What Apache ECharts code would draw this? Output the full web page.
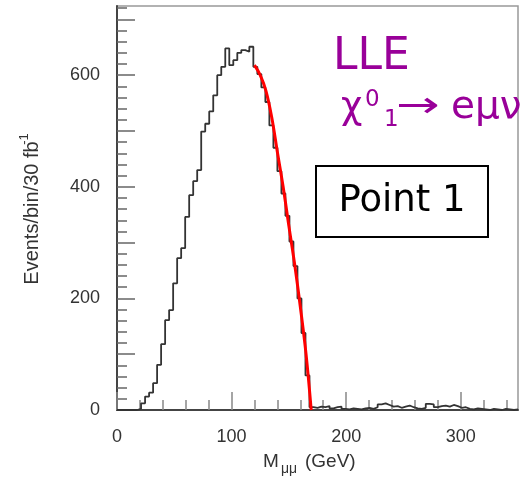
<!DOCTYPE html>
<html>
<head>
<meta charset="utf-8">
<script src="https://cdn.jsdelivr.net/npm/echarts@6/dist/echarts.min.js"></script>
<style>html,body{margin:0;padding:0;background:#fff}#c{width:520px;height:482px}</style>
</head>
<body>
<div id="c"></div>
<script>
// ---- data ----
const binStart = 0;      // GeV, left edge of first bin
const binWidth = 3.5;    // GeV
const counts = [
  0, 0, 0, 0, 0, 2, 12, 24, 31, 48,
  81, 118, 161, 179, 227, 272, 290, 346, 385, 410,
  430, 499, 513, 535, 564, 600, 615, 648, 618, 627,
  640, 645, 642, 651, 615, 602, 578, 552, 510, 470,
  428, 388, 348, 302, 258, 200, 138, 62, 5, 4,
  6, 5, 7, 3, 5, 6, 2, 1, 3, 2,
  1, 3, 4, 2, 5, 10, 12, 9, 6, 7,
  4, 6, 8, 5, 3, 2, 4, 11, 10, 5,
  7, 8, 6, 9, 7, 4, 5, 2, 1, 3,
  2, 1, 0, 2, 1, 0, 2, 1, 0, 1
];
const fitX = [120, 125, 130, 135, 140, 145, 150, 155, 160, 165, 169.5];
const fitY = [618, 600, 572, 525, 462, 400, 330, 262, 185, 100, 0];
const xMajorTicks = [0, 100, 200, 300];
const xMinorTicks = [20, 40, 60, 80, 120, 140, 160, 180, 220, 240, 260, 280, 320, 340];
const xLabels = [0, 100, 200, 300];
const yMajorTicks = [0, 100, 200, 300, 400, 500, 600, 700];
const yMinorTicks = [20, 40, 60, 80, 120, 140, 160, 180, 220, 240, 260, 280, 320, 340, 360, 380,
                     420, 440, 460, 480, 520, 540, 560, 580, 620, 640, 660, 680, 720];
const yLabels = [0, 200, 400, 600];

// ---- build ----
const histData = counts.map((v, i) => [binStart + i * binWidth, v]);
histData.push([binStart + counts.length * binWidth, counts[counts.length - 1]]);
const fitData = fitX.map((x, i) => [x, fitY[i]]);

const XMAX = 350, YMAX = 724;
const purple = '#990099';
const labelFont = { color: '#333', fontSize: 18, fontFamily: 'Liberation Sans' };

const chart = echarts.init(document.getElementById('c'), null, { renderer: 'canvas' });
chart.setOption({
  animation: false,
  backgroundColor: '#fff',
  grid: { left: 117, right: 2, top: 6, bottom: 72, show: true, borderColor: '#999', borderWidth: 1.5 },
  xAxis: [
    {
      type: 'value', min: 0, max: XMAX,
      axisLine: { show: true, onZero: false, lineStyle: { color: '#444', width: 2 } },
      axisTick: { show: true, inside: true, length: 18, customValues: xMajorTicks, lineStyle: { color: '#888', width: 1.5 } },
      axisLabel: Object.assign({ show: true, margin: 18, customValues: xLabels }, labelFont),
      splitLine: { show: false }
    },
    {
      type: 'value', min: 0, max: XMAX, position: 'bottom',
      axisLine: { show: false },
      axisTick: { show: true, inside: true, length: 10, customValues: xMinorTicks, lineStyle: { color: '#888', width: 1.5 } },
      axisLabel: { show: false },
      splitLine: { show: false }
    }
  ],
  yAxis: [
    {
      type: 'value', min: 0, max: YMAX,
      axisLine: { show: true, onZero: false, lineStyle: { color: '#444', width: 2 } },
      axisTick: { show: true, inside: true, length: 18, customValues: yMajorTicks, lineStyle: { color: '#666', width: 1.5 } },
      axisLabel: Object.assign({ show: true, margin: 17, customValues: yLabels }, labelFont),
      splitLine: { show: false }
    },
    {
      type: 'value', min: 0, max: YMAX, position: 'left',
      axisLine: { show: false },
      axisTick: { show: true, inside: true, length: 10, customValues: yMinorTicks, lineStyle: { color: '#666', width: 1.5 } },
      axisLabel: { show: false },
      splitLine: { show: false }
    }
  ],
  series: [
    {
      type: 'line', step: 'end', data: histData, symbol: 'none', xAxisIndex: 0, yAxisIndex: 0,
      lineStyle: { color: '#333', width: 1.8 }, z: 3
    },
    {
      type: 'line', smooth: 0.4, data: fitData, symbol: 'none', xAxisIndex: 0, yAxisIndex: 0,
      lineStyle: { color: '#ff0000', width: 3 }, z: 4
    }
  ],
  graphic: [
    { type: 'text', left: 333, top: 36, style: { text: 'LLE', fill: purple, font: '44px "DejaVu Sans"' } },
    { type: 'text', left: 341, top: 90, style: { text: 'χ', fill: purple, font: '37px "DejaVu Sans"' } },
    { type: 'text', left: 365, top: 89, style: { text: '0', fill: purple, font: '23px "DejaVu Sans"' } },
    { type: 'text', left: 384, top: 109, style: { text: '1', fill: purple, font: '23px "DejaVu Sans"' } },
    { type: 'text', x: 396, y: 108, scaleX: 1.45, style: { text: '→', fill: purple, font: '36px "DejaVu Sans"', textVerticalAlign: 'middle' } },
    { type: 'text', left: 451, top: 88, style: { text: 'eμν', fill: purple, font: '39px "DejaVu Sans"' } },
    { type: 'rect', shape: { x: 316, y: 166, width: 172, height: 71 }, style: { fill: '#fff', stroke: '#000', lineWidth: 2 }, z: 10 },
    { type: 'text', x: 402, y: 201, style: { text: 'Point 1', fill: '#000', font: '37px "DejaVu Sans"', textAlign: 'center', textVerticalAlign: 'middle' }, z: 11 },
    { type: 'text', x: 32, y: 213, rotation: Math.PI / 2, style: { text: 'Events/bin/30 fb', fill: '#333', font: '20px "Liberation Sans"', textAlign: 'center', textVerticalAlign: 'middle' } },
    { type: 'text', x: 24, y: 139, rotation: Math.PI / 2, style: { text: '-1', fill: '#333', font: '13px "Liberation Sans"', textAlign: 'center', textVerticalAlign: 'middle' } },
    { type: 'text', left: 263, top: 452, style: { text: 'M', fill: '#333', font: '19px "Liberation Sans"' } },
    { type: 'text', left: 281, top: 462, style: { text: 'μμ', fill: '#333', font: '14px "Liberation Sans"' } },
    { type: 'text', left: 305, top: 452, style: { text: '(GeV)', fill: '#333', font: '19px "Liberation Sans"' } }
  ]
});
</script>
</body>
</html>
